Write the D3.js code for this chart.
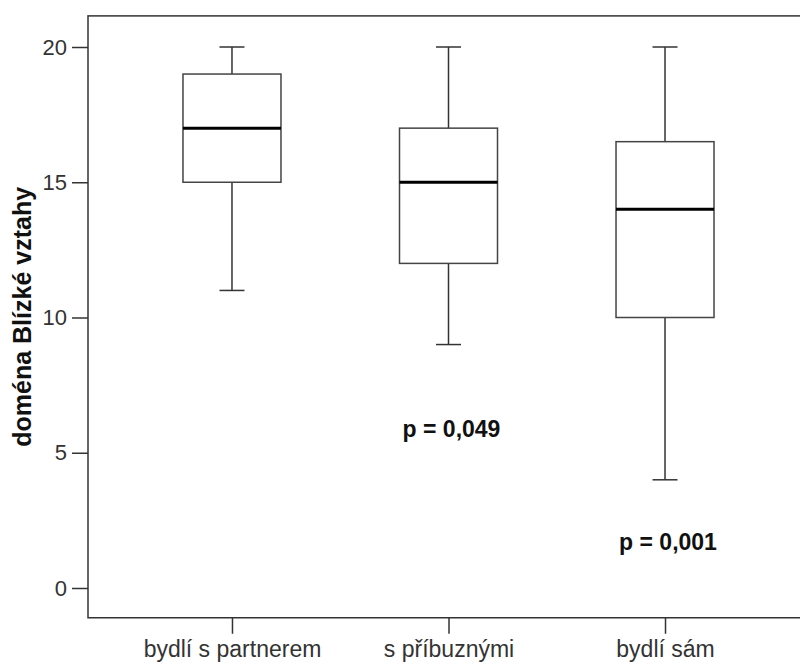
<!DOCTYPE html>
<html lang="cs">
    <head>
        <meta charset="utf-8">
        <title>Blízké vztahy</title>
        <style>
            body { margin: 0; background: white; }
            svg { display: block; }
            text { font-family: "Liberation Sans", Arial, sans-serif; }
            .axis path, .axis line { stroke: #333; stroke-width: 1.5; }
            .axis text { fill: #333; }
        </style>
    </head>
    <body>
        <svg width="800" height="666"></svg>
        <script src="https://d3js.org/d3.v7.min.js"></script>
        <script>
            // data
            var categories = ["bydlí s partnerem", "s příbuznými", "bydlí sám"];
            var mins    = [11, 9, 4];
            var q1s     = [15, 12, 10];
            var medians = [17, 15, 14];
            var q3s     = [19, 17, 16.5];
            var maxs    = [20, 20, 20];
            var yTicks  = [0, 5, 10, 15, 20];
            var pLabels = [null, "p = 0,049", "p = 0,001"];
            var pValuesAt = [null, 5.6, 1.4];

            var boxes = categories.map(function(c, i) {
                return {cat: c, min: mins[i], q1: q1s[i], med: medians[i], q3: q3s[i], max: maxs[i]};
            });

            var svg = d3.select("svg"),
                left = 88, right = 809;

            var y = d3.scaleLinear().domain([0, 20]).range([588, 47]);
            var x = d3.scalePoint().domain(categories).range([left, right]).padding(0.665);

            var plotTop = y(21.15), plotBottom = y(-1.1);
            var boxW = 98, capW = 25;

            // frame
            svg.append("rect")
                .attr("x", left).attr("y", plotTop)
                .attr("width", right - left).attr("height", plotBottom - plotTop)
                .attr("fill", "none").attr("stroke", "#333").attr("stroke-width", 1.5);

            // y axis
            var yAxis = svg.append("g").attr("class", "axis")
                .attr("transform", "translate(" + left + ",0)")
                .call(d3.axisLeft(y).tickValues(yTicks).tickSize(16).tickPadding(5));
            yAxis.select(".domain").remove();
            yAxis.selectAll("text").style("font-size", "22px");

            // x axis
            var xAxis = svg.append("g").attr("class", "axis")
                .attr("transform", "translate(0," + plotBottom + ")")
                .call(d3.axisBottom(x).tickSize(16).tickPadding(6));
            xAxis.select(".domain").remove();
            xAxis.selectAll("text").style("font-size", "23px").attr("dy", "0.75em");

            // y label
            svg.append("text")
                .attr("transform", "translate(31," + ((plotTop + plotBottom) / 2) + ") rotate(-90)")
                .attr("text-anchor", "middle")
                .style("font-size", "25px")
                .style("font-weight", "bold")
                .attr("fill", "#111")
                .text("doména Blízké vztahy");

            // boxes
            var g = svg.selectAll(".box").data(boxes).enter().append("g")
                .attr("class", "box")
                .attr("transform", function(d) { return "translate(" + x(d.cat) + ",0)"; });

            g.append("line")
                .attr("y1", function(d) { return y(d.max); })
                .attr("y2", function(d) { return y(d.q3); })
                .attr("stroke", "#333").attr("stroke-width", 1.5);
            g.append("line")
                .attr("y1", function(d) { return y(d.q1); })
                .attr("y2", function(d) { return y(d.min); })
                .attr("stroke", "#333").attr("stroke-width", 1.5);
            g.append("line")
                .attr("x1", -capW / 2).attr("x2", capW / 2)
                .attr("y1", function(d) { return y(d.max); })
                .attr("y2", function(d) { return y(d.max); })
                .attr("stroke", "#333").attr("stroke-width", 1.5);
            g.append("line")
                .attr("x1", -capW / 2).attr("x2", capW / 2)
                .attr("y1", function(d) { return y(d.min); })
                .attr("y2", function(d) { return y(d.min); })
                .attr("stroke", "#333").attr("stroke-width", 1.5);
            g.append("rect")
                .attr("x", -boxW / 2).attr("width", boxW)
                .attr("y", function(d) { return y(d.q3); })
                .attr("height", function(d) { return y(d.q1) - y(d.q3); })
                .attr("fill", "white").attr("stroke", "#444").attr("stroke-width", 1.5);
            g.append("line")
                .attr("x1", -boxW / 2).attr("x2", boxW / 2)
                .attr("y1", function(d) { return y(d.med); })
                .attr("y2", function(d) { return y(d.med); })
                .attr("stroke", "#000").attr("stroke-width", 3);

            // p-values
            categories.forEach(function(c, i) {
                if (!pLabels[i]) return;
                svg.append("text")
                    .attr("x", x(c) + 3)
                    .attr("y", y(pValuesAt[i]))
                    .attr("text-anchor", "middle")
                    .style("font-size", "23px")
                    .style("font-weight", "bold")
                    .attr("fill", "#111")
                    .text(pLabels[i]);
            });
        </script>
    </body>
</html>
